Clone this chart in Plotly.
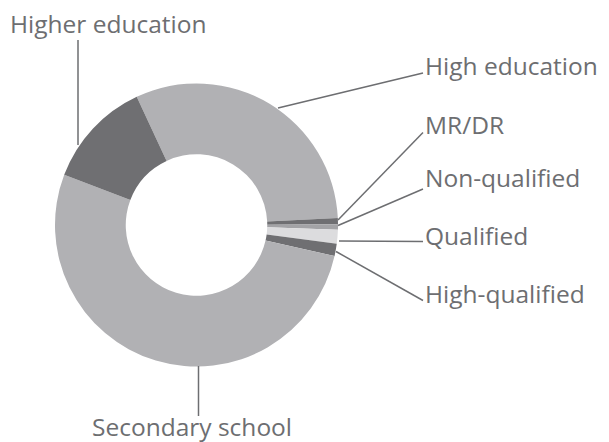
import plotly.graph_objects as go

# Share of each education / qualification group (percent), clockwise order
categories = ["High education", "MR/DR", "Non-qualified", "Qualified",
              "High-qualified", "Secondary school", "Higher education"]
shares = [31.2, 0.7, 0.6, 1.6, 1.4, 52.3, 12.3]
slice_colors = ["#b1b1b4", "#6f6f72", "#a3a3a6", "#dcdcde",
                "#6f6f72", "#b1b1b4", "#6f6f72"]

W, H = 609, 442
TEXT_GRAY = "#6d6e71"


def px(x):
    return x / W


def py(y):
    return 1 - y / H


# donut geometry in pixels
cx, cy, r = 196.5, 225.0, 141.5

fig = go.Figure(go.Pie(
    labels=categories,
    values=shares,
    sort=False,
    direction="clockwise",
    rotation=-25,
    hole=0.5,
    marker=dict(colors=slice_colors, line=dict(width=0)),
    textinfo="none",
    hoverinfo="label+percent",
    showlegend=False,
    domain=dict(x=[px(cx - r), px(cx + r)], y=[py(cy + r), py(cy - r)]),
))

# label text: (text, x, y, anchor)
label_pos = [
    ("Higher education", 9, 23, "left"),
    ("High education", 424, 65, "left"),
    ("MR/DR", 424, 124, "left"),
    ("Non-qualified", 424, 177, "left"),
    ("Qualified", 424, 235, "left"),
    ("High-qualified", 424, 293, "left"),
    ("Secondary school", 192, 426, "center"),
]

# leader lines: (x0, y0, x1, y1) in pixels
leaders = [
    (78, 145, 78, 40),
    (278, 108, 423, 73),
    (338, 220, 423, 132.5),
    (338, 225.5, 423, 189),
    (339, 241, 423, 241.5),
    (336, 251.5, 423, 300.5),
    (198.5, 366, 198.5, 416),
]

annotations = [
    dict(text=t, x=px(x), y=py(y), xref="paper", yref="paper",
         xanchor=a, yanchor="middle", showarrow=False, borderpad=0,
         font=dict(family="Open Sans", size=24.5, color=TEXT_GRAY))
    for t, x, y, a in label_pos
]

shapes = [
    dict(type="line", xref="paper", yref="paper",
         x0=px(x0), y0=py(y0), x1=px(x1), y1=py(y1),
         line=dict(color=TEXT_GRAY, width=1.5))
    for x0, y0, x1, y1 in leaders
]

fig.update_layout(
    width=W, height=H,
    margin=dict(l=0, r=0, t=0, b=0),
    paper_bgcolor="white",
    plot_bgcolor="white",
    annotations=annotations,
    shapes=shapes,
)

fig.write_html("out.html")
